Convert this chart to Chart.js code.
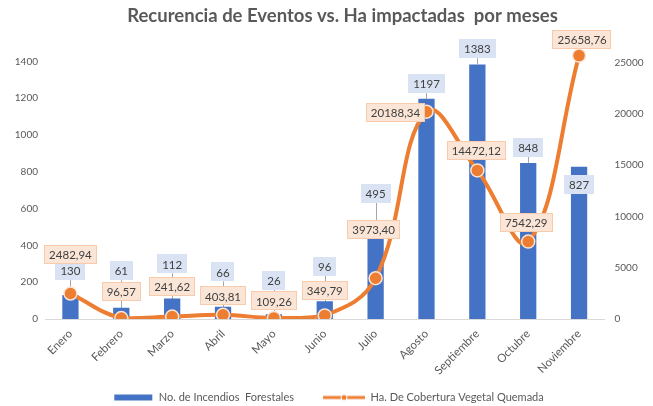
<!DOCTYPE html>
<html>
<head>
<meta charset="utf-8">
<script src="https://cdn.jsdelivr.net/npm/chart.js@4.4.0/dist/chart.umd.min.js"></script>
<style>
  html, body { margin: 0; padding: 0; background: #fff; }
</style>
</head>
<body>
<canvas id="myChart" width="653" height="406"></canvas>
<script>
  // data
  const meses = ['Enero', 'Febrero', 'Marzo', 'Abril', 'Mayo', 'Junio', 'Julio', 'Agosto', 'Septiembre', 'Octubre', 'Noviembre'];
  const incendios = [130, 61, 112, 66, 26, 96, 495, 1197, 1383, 848, 827];
  const hectareas = [2482.94, 96.57, 241.62, 403.81, 109.26, 349.79, 3973.40, 20188.34, 14472.12, 7542.29, 25658.76];
  const ticksIncendios = [0, 200, 400, 600, 800, 1000, 1200, 1400];
  const ticksHa = [0, 5000, 10000, 15000, 20000, 25000];

  // label offsets (px) from the bar top / point centre, as placed in the original
  const barLabelDy = [-25, -37, -34.5, -35, -34, -35, -34.5, -15, -15.7, -15.7, 17.3];
  const lineLabelDx = [0, 0, 0, 0, 0, 0, -2, -31, -1, -2, 3];
  const lineLabelDy = [-39.4, -27, -30.5, -19, -17, -25, -49, 1, -20, -19.5, -16];

  const azul = '#4472C4';
  const naranja = '#ED7D31';
  const gris = '#595959';

  function fmtHa(v) {
    return v.toFixed(2).replace('.', ',');
  }

  // legend icons (left part left empty -> gap between items)
  function legendIcon(kind) {
    const c = document.createElement('canvas');
    c.width = 70; c.height = 10;
    const g = c.getContext('2d');
    if (kind === 'bar') {
      g.fillStyle = azul;
      g.fillRect(31, 2, 38, 6);
    } else {
      g.strokeStyle = naranja;
      g.lineWidth = 3;
      g.beginPath(); g.moveTo(28, 5); g.lineTo(70, 5); g.stroke();
      g.beginPath(); g.arc(49, 5, 3, 0, Math.PI * 2);
      g.fillStyle = naranja; g.fill();
      g.lineWidth = 1; g.strokeStyle = '#fff'; g.stroke();
    }
    return c;
  }
  const icons = [legendIcon('bar'), legendIcon('line')];

  function labelBoxes(chart) {
    const ctx = chart.ctx;
    ctx.font = '11.5px Lato';
    const out = [];
    const mBar = chart.getDatasetMeta(0);
    mBar.data.forEach((el, i) => {
      const t = String(incendios[i]);
      const w = ctx.measureText(t).width + 10;
      out.push({ x: el.x, y: el.y + barLabelDy[i], w: w, h: 19, text: t,
        fill: '#DAE3F3', stroke: null, ax: el.x, ay: el.y });
    });
    const mLine = chart.getDatasetMeta(1);
    mLine.data.forEach((el, i) => {
      const t = fmtHa(hectareas[i]);
      const w = ctx.measureText(t).width + 10;
      out.push({ x: el.x + lineLabelDx[i], y: el.y + lineLabelDy[i], w: w, h: 19, text: t,
        fill: '#FBE5D6', stroke: '#F8CBAD', ax: el.x, ay: el.y, side: Math.abs(lineLabelDx[i]) > 10 });
    });
    return out;
  }

  const etiquetas = {
    id: 'etiquetas',
    afterLayout(chart) {
      // the original title sits a bit right of centre, legend a bit lower/left
      const t = chart.titleBlock;
      t.left += 16;
      t.right += 16;
      const l = chart.legend;
      l.top += 7; l.bottom += 7;
      l.left -= 13; l.right -= 13;
    },
    beforeDatasetsDraw(chart) {
      const ctx = chart.ctx;
      ctx.save();
      ctx.strokeStyle = '#A6A6A6';
      ctx.lineWidth = 1;
      labelBoxes(chart).forEach(b => {
        const bottom = b.y + b.h / 2;
        if (b.side || b.ay < bottom + 4) return;
        ctx.beginPath();
        ctx.moveTo(Math.round(b.ax) + 0.5, bottom);
        ctx.lineTo(Math.round(b.ax) + 0.5, b.ay);
        ctx.stroke();
      });
      ctx.restore();
    },
    afterDatasetsDraw(chart) {
      const ctx = chart.ctx;
      ctx.save();
      labelBoxes(chart).forEach(b => {
        const x0 = Math.round(b.x - b.w / 2), y0 = Math.round(b.y - b.h / 2);
        ctx.fillStyle = b.fill;
        ctx.fillRect(x0, y0, Math.round(b.w), b.h);
        if (b.stroke) {
          ctx.strokeStyle = b.stroke;
          ctx.lineWidth = 1;
          ctx.strokeRect(x0 + 0.5, y0 + 0.5, Math.round(b.w) - 1, b.h - 1);
        }
        ctx.fillStyle = '#404040';
        ctx.font = '11.5px Lato';
        ctx.textAlign = 'center';
        ctx.textBaseline = 'middle';
        ctx.fillText(b.text, b.x, b.y + 1);
      });
      ctx.restore();
    }
  };

  const data = {
    labels: meses,
    datasets: [{
      type: 'bar',
      label: 'No. de Incendios  Forestales',
      data: incendios,
      backgroundColor: azul,
      yAxisID: 'y',
      categoryPercentage: 1,
      barPercentage: 0.32,
      order: 1
    }, {
      type: 'line',
      label: 'Ha. De Cobertura Vegetal Quemada',
      data: hectareas,
      borderColor: naranja,
      backgroundColor: naranja,
      borderWidth: 4,
      tension: 0.4,
      pointRadius: 6.5,
      pointBackgroundColor: naranja,
      pointBorderColor: '#FBE5D6',
      pointBorderWidth: 1.5,
      yAxisID: 'y1',
      order: 0
    }]
  };

  const config = {
    data: data,
    options: {
      responsive: false,
      animation: false,
      layout: { padding: { left: 0, right: 0, top: 0, bottom: 0 } },
      scales: {
        x: {
          offset: true,
          grid: { display: false, drawTicks: false },
          border: { display: true, color: '#D9D9D9', width: 1 },
          ticks: {
            autoSkip: false,
            minRotation: 45,
            maxRotation: 45,
            padding: 8,
            color: gris,
            font: { family: 'Lato', size: 11.5 }
          },
          afterFit: s => { s.height = 65; }
        },
        y: {
          position: 'left',
          min: 0,
          max: 1520,
          grid: { display: false, drawTicks: false },
          border: { display: false },
          ticks: { padding: 7, color: gris, font: { family: 'Lato', size: 10 }, callback: v => String(v) },
          afterBuildTicks: s => { s.ticks = ticksIncendios.map(v => ({ value: v })); },
          afterFit: s => { s.width = 45; }
        },
        y1: {
          position: 'right',
          min: 0,
          max: 27255,
          grid: { display: false, drawTicks: false },
          border: { display: false },
          ticks: { padding: 10, color: gris, font: { family: 'Lato', size: 10 }, callback: v => String(v) },
          afterBuildTicks: s => { s.ticks = ticksHa.map(v => ({ value: v })); },
          afterFit: s => { s.width = 48.5; }
        }
      },
      plugins: {
        title: {
          display: true,
          text: 'Recurencia de Eventos vs. Ha impactadas  por meses',
          color: gris,
          font: { family: 'Lato', size: 18.5, weight: 'bold' },
          padding: { top: 5, bottom: 12 }
        },
        legend: {
          position: 'bottom',
          labels: {
            usePointStyle: true,
            pointStyleWidth: 70,
            boxHeight: 10,
            padding: 1,
            color: gris,
            font: { family: 'Lato', size: 11 },
            generateLabels: chart => chart.data.datasets.map((ds, i) => ({
              text: ds.label,
              pointStyle: icons[i],
              fontColor: gris,
              fillStyle: 'transparent',
              strokeStyle: 'transparent',
              lineWidth: 0,
              hidden: false,
              datasetIndex: i
            }))
          }
        },
        tooltip: { enabled: false }
      }
    },
    plugins: [etiquetas]
  };

  const myChart = new Chart(document.getElementById('myChart'), config);
</script>
</body>
</html>
